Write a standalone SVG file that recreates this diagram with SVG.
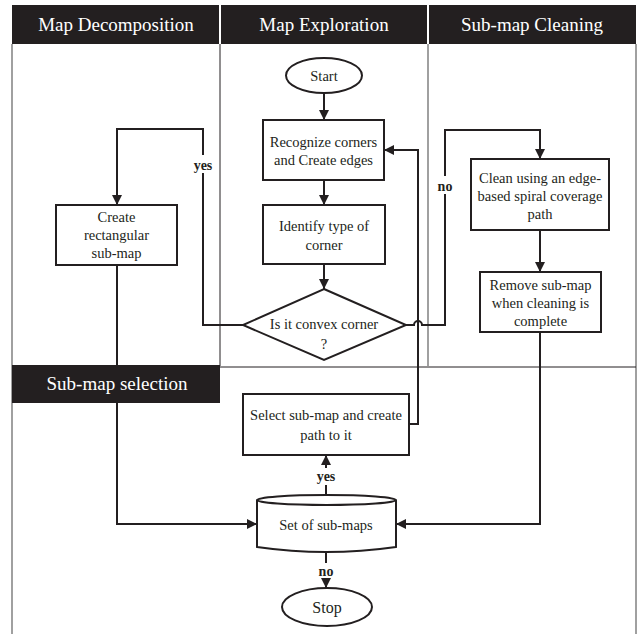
<svg xmlns="http://www.w3.org/2000/svg" width="639" height="634" viewBox="0 0 639 634">
<style>
.hdr{fill:#231f20}
.htxt{font-family:"Liberation Serif",serif;font-size:19px;fill:#fff;text-anchor:middle}
.lane{stroke:#808080;stroke-width:1.5;fill:none}
.lane2{stroke:#231f20;stroke-width:1;fill:none}
.box{fill:#fff;stroke:#231f20;stroke-width:2}
.txt{font-family:"Liberation Serif",serif;font-size:14.5px;fill:#231f20;text-anchor:middle}
.lbl{font-family:"Liberation Serif",serif;font-size:14px;font-weight:bold;fill:#231f20;text-anchor:middle}
.con{stroke:#231f20;stroke-width:2;fill:none}
</style>
<defs>
<marker id="arr" markerWidth="10" markerHeight="10" refX="10" refY="5" orient="auto" markerUnits="userSpaceOnUse">
<path d="M0,0 L10,5 L0,10 Z" fill="#231f20"/>
</marker>
</defs>
<g id="lanes">
<line class="lane" x1="12" y1="44" x2="12" y2="634"/>
<line class="lane2" x1="220" y1="44" x2="220" y2="366"/>
<line class="lane" x1="428" y1="44" x2="428" y2="366"/>
<line class="lane" x1="636" y1="44" x2="636" y2="634"/>
<line class="lane2" x1="220" y1="367" x2="636" y2="367"/>
</g>
<g id="headers">
<rect class="hdr" x="12" y="5" width="207" height="39"/>
<rect class="hdr" x="221" y="5" width="206" height="39"/>
<rect class="hdr" x="429" y="5" width="207" height="39"/>
<text class="htxt" x="116" y="31">Map Decomposition</text>
<text class="htxt" x="324" y="31">Map Exploration</text>
<text class="htxt" x="532" y="31">Sub-map Cleaning</text>
</g>
<g id="connectors">
<line class="con" x1="324" y1="93" x2="324" y2="120" marker-end="url(#arr)"/>
<line class="con" x1="324" y1="180" x2="324" y2="205" marker-end="url(#arr)"/>
<line class="con" x1="324" y1="264" x2="324" y2="289" marker-end="url(#arr)"/>
<polyline class="con" points="243,325 203,325 203,129 117,129 117,205" marker-end="url(#arr)"/>
<path class="con" d="M406,325 L414,325 A4,4 0 0 1 422,325 L445,325 L445,130 L540,130 L540,159" marker-end="url(#arr)"/>
<line class="con" x1="540" y1="230" x2="540" y2="272" marker-end="url(#arr)"/>
<polyline class="con" points="540,332 540,524 396,524" marker-end="url(#arr)"/>
<polyline class="con" points="117,265 117,524 257,524" marker-end="url(#arr)"/>
<polyline class="con" points="409,424 418,424 418,150 384,150" marker-end="url(#arr)"/>
<line class="con" x1="326" y1="495" x2="326" y2="455" marker-end="url(#arr)"/>
<line class="con" x1="326" y1="553" x2="326" y2="588" marker-end="url(#arr)"/>
<rect x="190" y="155" width="26" height="18" fill="#fff"/>
<text class="lbl" x="203" y="170">yes</text>
<rect x="434" y="176" width="22" height="18" fill="#fff"/>
<text class="lbl" x="445" y="191">no</text>
<rect x="311" y="468" width="30" height="17" fill="#fff"/>
<text class="lbl" x="326" y="481">yes</text>
<rect x="314" y="563" width="24" height="15" fill="#fff"/>
<text class="lbl" x="326" y="576">no</text>
</g>
<g id="start">
<ellipse class="box" cx="324" cy="75.5" rx="38" ry="17.5" stroke-width="1.2"/>
<text class="txt" x="324" y="81">Start</text>
</g>
<g id="recognize">
<rect class="box" x="263" y="120" width="121" height="60"/>
<text class="txt" x="323.5" y="147">Recognize corners</text>
<text class="txt" x="323.5" y="165">and Create edges</text>
</g>
<g id="identify">
<rect class="box" x="263" y="205" width="122" height="59"/>
<text class="txt" x="324" y="231">Identify type of</text>
<text class="txt" x="324" y="250">corner</text>
</g>
<g id="convex">
<polygon class="box" points="324,289 406,325 324,360 243,325" stroke-width="1.2"/>
<text class="txt" x="324" y="329">Is it convex corner</text>
<text class="txt" x="324" y="349">?</text>
</g>
<g id="create">
<rect class="box" x="56" y="205" width="121" height="60"/>
<text class="txt" x="116.5" y="222">Create</text>
<text class="txt" x="116.5" y="240">rectangular</text>
<text class="txt" x="116.5" y="258">sub-map</text>
</g>
<g id="clean">
<rect class="box" x="471" y="159" width="138" height="71"/>
<text class="txt" x="540" y="183">Clean using an edge-</text>
<text class="txt" x="540" y="201">based spiral coverage</text>
<text class="txt" x="540" y="219">path</text>
</g>
<g id="remove">
<rect class="box" x="480" y="272" width="121" height="60"/>
<text class="txt" x="540.5" y="290">Remove sub-map</text>
<text class="txt" x="540.5" y="308">when cleaning is</text>
<text class="txt" x="540.5" y="326">complete</text>
</g>
<g id="selection-header">
<rect class="hdr" x="12" y="365" width="208" height="38"/>
<text class="htxt" x="117" y="390">Sub-map selection</text>
</g>
<g id="select">
<rect class="box" x="243" y="394" width="166" height="61"/>
<text class="txt" x="326" y="420">Select sub-map and create</text>
<text class="txt" x="326" y="440">path to it</text>
</g>
<g id="set">
<path class="box" stroke-width="1.2" d="M257,500 L257,547 Q326,557 396,547 L396,500"/>
<ellipse class="box" stroke-width="1.2" cx="326.5" cy="500" rx="69.5" ry="5"/>
<text class="txt" x="326" y="530">Set of sub-maps</text>
</g>
<g id="stop">
<ellipse class="box" cx="327" cy="607" rx="45" ry="19" stroke-width="1.2"/>
<text class="txt" x="327" y="613" style="font-size:16px">Stop</text>
</g>
</svg>
